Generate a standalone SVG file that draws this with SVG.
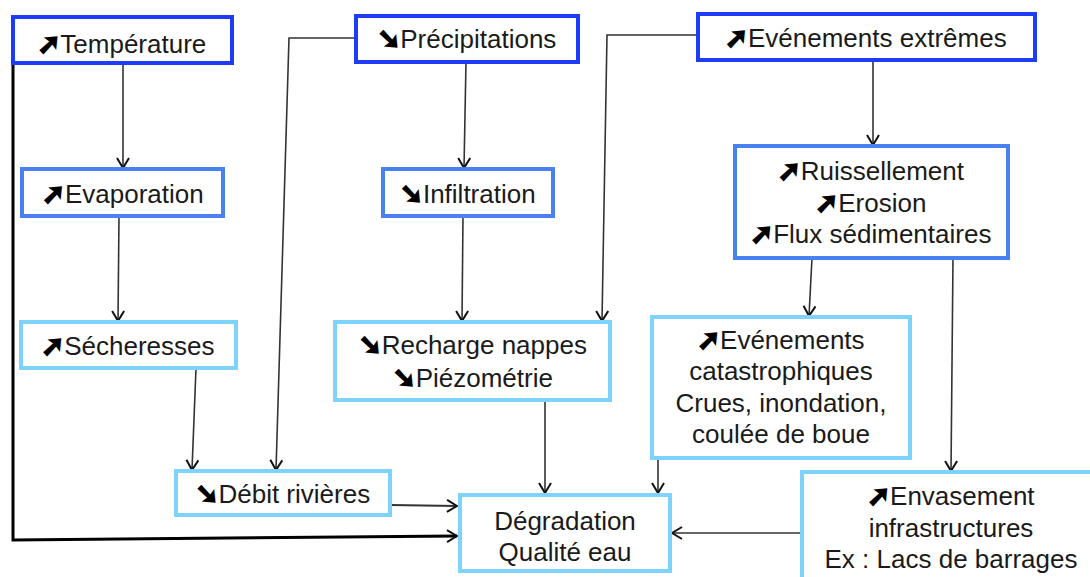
<svg xmlns="http://www.w3.org/2000/svg" width="1090" height="577" viewBox="0 0 1090 577">
<style>
.box{fill:#fff;stroke-width:4}
.b1{stroke:#1e3cf5}
.b2{stroke:#4a80f2}
.b3{stroke:#7dd3fb}
.t{font-family:"Liberation Sans",Arial,sans-serif;font-size:26px;fill:#1a1a1a;text-anchor:middle}
.ic{font-family:"DejaVu Sans",sans-serif;font-size:27px;fill:#000;stroke:#000;stroke-width:2.4;stroke-linejoin:miter;font-weight:bold}
.c{fill:none;stroke:#333;stroke-width:1.6;marker-end:url(#ah)}
.thick{fill:none;stroke:#000;stroke-width:3;marker-end:url(#ah)}
</style>
<defs>
<marker id="ah" viewBox="0 0 12 14" refX="11" refY="7" markerWidth="12" markerHeight="14" markerUnits="userSpaceOnUse" orient="auto">
<path d="M1,1 L11,7 L1,13" fill="none" stroke="#111" stroke-width="2"/>
</marker>
</defs>
<rect width="1090" height="577" fill="#fff"/>
<g id="connectors">
<polyline class="thick" points="13,64 13,540 457,536"/>
<line class="c" x1="123" y1="64" x2="123" y2="168"/>
<line class="c" x1="119" y1="216" x2="118" y2="321"/>
<line class="c" x1="196" y1="368" x2="192" y2="470"/>
<polyline class="c" points="355,38 289,38 276,470"/>
<line class="c" x1="466" y1="62" x2="464" y2="168"/>
<line class="c" x1="463" y1="216" x2="462" y2="321"/>
<polyline class="c" points="698,35 607,35 602,321"/>
<line class="c" x1="873" y1="60" x2="873" y2="145"/>
<line class="c" x1="812" y1="258" x2="809" y2="316"/>
<line class="c" x1="953" y1="258" x2="951" y2="471"/>
<line class="c" x1="390" y1="505" x2="457" y2="506" style="stroke-width:2.2"/>
<line class="c" x1="545" y1="400" x2="545" y2="493"/>
<line class="c" x1="658" y1="458" x2="658" y2="493"/>
<line class="c" x1="802" y1="533" x2="672" y2="533"/>
</g>
<g id="temperature">
<rect class="box b1" x="13" y="17" width="219" height="46"/>
<text class="t" x="122" y="53"><tspan class="ic">➚</tspan>Température</text>
</g>
<g id="precipitations">
<rect class="box b1" x="356" y="16" width="222" height="46"/>
<text class="t" x="467" y="48"><tspan class="ic">➘</tspan>Précipitations</text>
</g>
<g id="evenements-extremes">
<rect class="box b1" x="698" y="14" width="337" height="46"/>
<text class="t" x="866" y="47"><tspan class="ic">➚</tspan>Evénements extrêmes</text>
</g>
<g id="evaporation">
<rect class="box b2" x="22" y="169" width="201" height="47"/>
<text class="t" x="123" y="203"><tspan class="ic">➚</tspan>Evaporation</text>
</g>
<g id="infiltration">
<rect class="box b2" x="383" y="169" width="170" height="47"/>
<text class="t" x="468" y="203"><tspan class="ic">➘</tspan>Infiltration</text>
</g>
<g id="ruissellement">
<rect class="box b2" x="735" y="146" width="273" height="112"/>
<text class="t" x="871" y="180"><tspan class="ic">➚</tspan>Ruissellement</text>
<text class="t" x="871" y="212"><tspan class="ic">➚</tspan>Erosion</text>
<text class="t" x="871" y="243"><tspan class="ic">➚</tspan>Flux sédimentaires</text>
</g>
<g id="secheresses">
<rect class="box b3" x="21" y="322" width="215" height="46"/>
<text class="t" x="128" y="355"><tspan class="ic">➚</tspan>Sécheresses</text>
</g>
<g id="recharge">
<rect class="box b3" x="335" y="322" width="275" height="78"/>
<text class="t" x="473" y="354"><tspan class="ic">➘</tspan>Recharge nappes</text>
<text class="t" x="473" y="387"><tspan class="ic">➘</tspan>Piézométrie</text>
</g>
<g id="catastrophiques">
<rect class="box b3" x="652" y="317" width="258" height="141"/>
<text class="t" x="781" y="349"><tspan class="ic">➚</tspan>Evénements</text>
<text class="t" x="781" y="380">catastrophiques</text>
<text class="t" x="781" y="412">Crues, inondation,</text>
<text class="t" x="781" y="443">coulée de boue</text>
</g>
<g id="debit">
<rect class="box b3" x="176" y="471" width="214" height="44"/>
<text class="t" x="283" y="503"><tspan class="ic">➘</tspan>Débit rivières</text>
</g>
<g id="degradation">
<rect class="box b3" x="460" y="495" width="210" height="76"/>
<text class="t" x="565" y="530">Dégradation</text>
<text class="t" x="565" y="561">Qualité eau</text>
</g>
<g id="envasement">
<rect class="box b3" x="802" y="472" width="300" height="120"/>
<text class="t" x="951" y="505"><tspan class="ic">➚</tspan>Envasement</text>
<text class="t" x="951" y="537">infrastructures</text>
<text class="t" x="951" y="568">Ex : Lacs de barrages</text>
</g>
</svg>
